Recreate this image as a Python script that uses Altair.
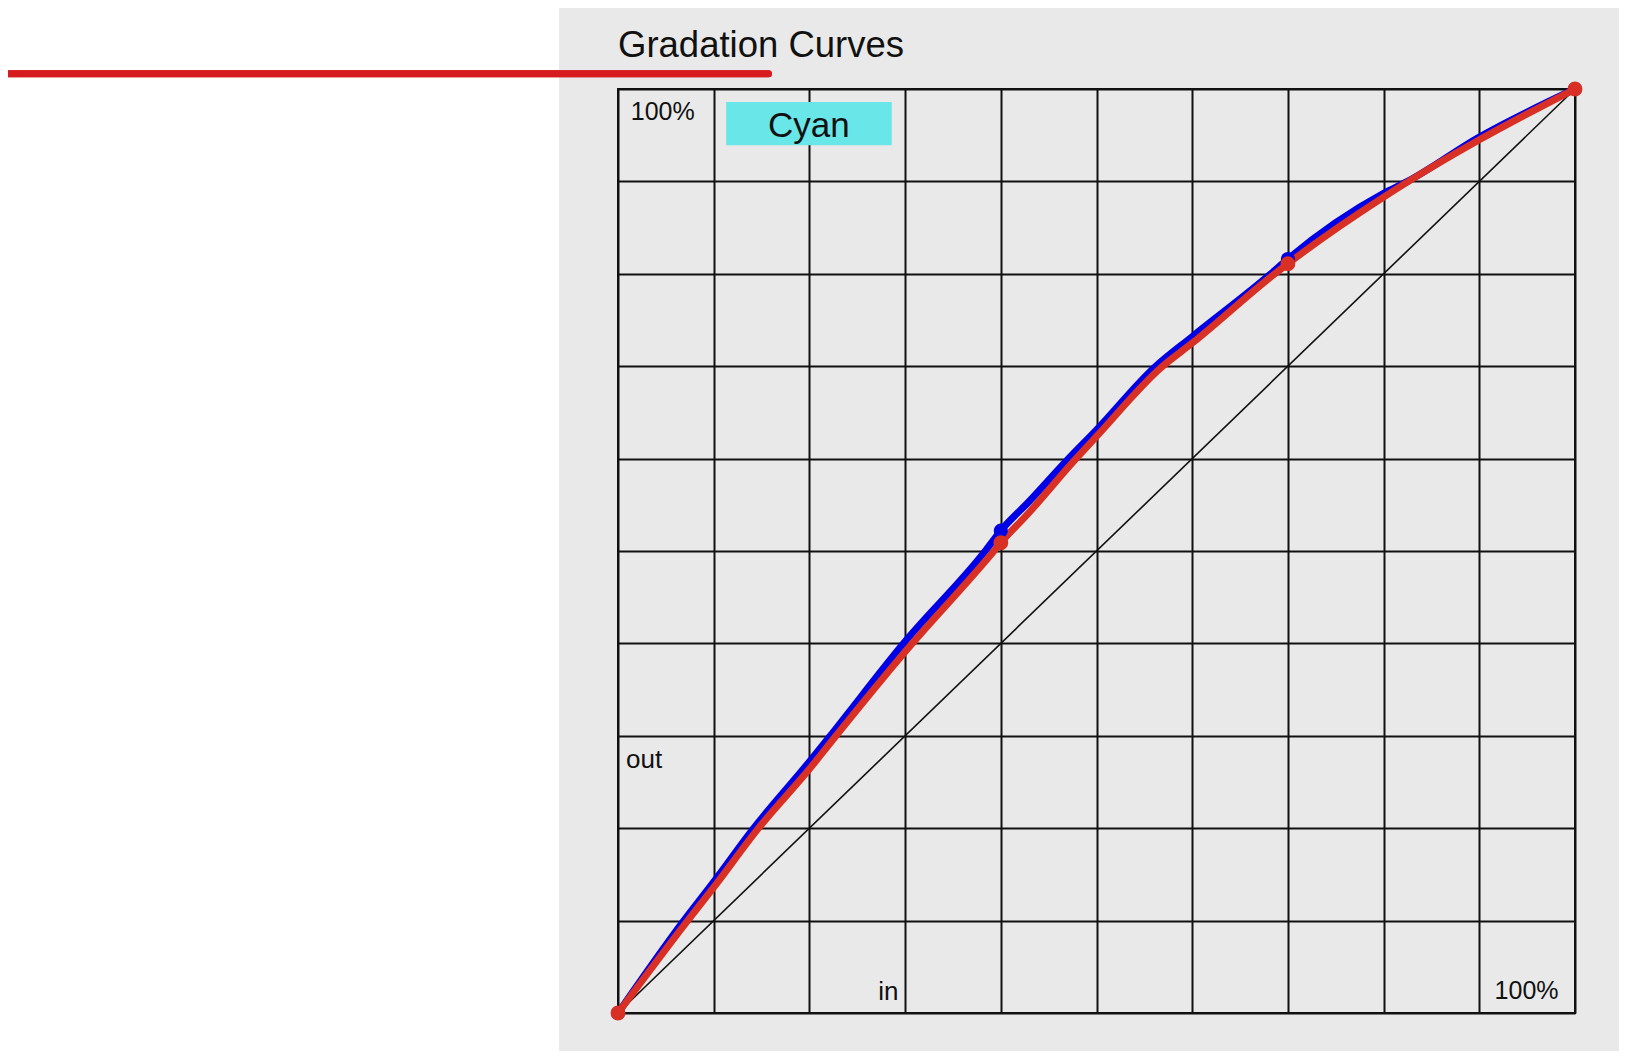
import altair as alt
import pandas as pd

# ---- data ----
in_blue = [0, 6.8, 10, 14.1, 20, 22.1, 30, 38.3, 40, 42.9, 46.9, 50, 56.1, 60, 68.1, 70, 80, 82.5, 90, 100]
out_blue = [0, 9.9, 14.2, 19.9, 27.2, 29.9, 40.2, 49.9, 52.2, 55.3, 59.8, 63.1, 69.9, 73.2, 79.9, 81.6, 88.7, 90.0, 94.8, 100]

in_red = [0, 7.2, 10, 14.6, 20, 22.7, 30, 39.2, 40, 42.9, 47.6, 50, 56.8, 60, 68.5, 70, 80, 82.6, 90, 100]
out_red = [0, 9.9, 13.6, 19.9, 26.4, 29.9, 39.1, 49.9, 50.9, 54.1, 59.7, 62.4, 69.9, 72.5, 79.9, 81.1, 88.3, 90.0, 94.5, 100]

ctrl_in = [0, 40, 70, 100]
ctrl_out_blue = [0, 52.2, 81.6, 100]
ctrl_out_red = [0, 50.9, 81.1, 100]

diag_in = [0, 100]
diag_out = [0, 100]

grid_ticks = [0, 10, 20, 30, 40, 50, 60, 70, 80, 90, 100]

title_text = ["Gradation Curves"]

label_text = ["100%", "100%"]
label_x = [1.33, 91.6]
label_y = [96.6, 1.48]

axis_name_text = ["out", "in"]
axis_name_x = [0.84, 27.2]
axis_name_y = [26.5, 1.46]

channel_name = ["Cyan"]
channel_box_x = [11.3]
channel_box_x2 = [28.6]
channel_box_y = [93.9]
channel_box_y2 = [98.6]
channel_text_x = [19.95]
channel_text_y = [94.8]

FONT = "Liberation Sans"

blue_df = pd.DataFrame({"in": in_blue, "out": out_blue})
red_df = pd.DataFrame({"in": in_red, "out": out_red})
cb_df = pd.DataFrame({"in": ctrl_in, "out": ctrl_out_blue})
cr_df = pd.DataFrame({"in": ctrl_in, "out": ctrl_out_red})
diag_df = pd.DataFrame({"in": diag_in, "out": diag_out})
lab_df = pd.DataFrame({"x": label_x, "y": label_y, "t": label_text})
name_df = pd.DataFrame({"x": axis_name_x, "y": axis_name_y, "t": axis_name_text})
box_df = pd.DataFrame({"x": channel_box_x, "x2": channel_box_x2, "y": channel_box_y, "y2": channel_box_y2})
ctext_df = pd.DataFrame({"x": channel_text_x, "y": channel_text_y, "t": channel_name})
title_df = pd.DataFrame({"t": title_text})

xs = alt.Scale(domain=[0, 100], nice=False, zero=False)
ys = alt.Scale(domain=[0, 100], nice=False, zero=False)
xaxis = alt.Axis(values=grid_ticks, grid=True, labels=False, ticks=False, domain=False, title=None)
yaxis = alt.Axis(values=grid_ticks, grid=True, labels=False, ticks=False, domain=False, title=None)

X = lambda f: alt.X(f, type="quantitative", scale=xs, axis=xaxis)
Y = lambda f: alt.Y(f, type="quantitative", scale=ys, axis=yaxis)

white = alt.Chart(diag_df).mark_rect(color="white").encode(
    x=alt.value(-640), x2=alt.value(-59), y=alt.value(-100), y2=alt.value(1000)
)
deco = alt.Chart(diag_df).mark_rule(color="#d61c1f", strokeWidth=7, strokeCap="round").encode(
    x=alt.value(-640), x2=alt.value(150.5), y=alt.value(-15.3)
)
title = alt.Chart(title_df).mark_text(
    font=FONT, fontSize=36.5, color="#111111", align="left", baseline="alphabetic"
).encode(x=alt.value(0), y=alt.value(-32), text="t")

diag = alt.Chart(diag_df).mark_line(color="#111111", strokeWidth=1.6).encode(
    x=X("in"), y=Y("out"), order="in:Q"
)
box = alt.Chart(box_df).mark_rect(color="#69e6e8").encode(
    x=X("x"), x2="x2", y=Y("y"), y2="y2"
)
ctext = alt.Chart(ctext_df).mark_text(
    font=FONT, fontSize=35, color="#111111", align="center", baseline="alphabetic"
).encode(x=X("x"), y=Y("y"), text="t")
labs = alt.Chart(lab_df).mark_text(
    font=FONT, fontSize=25, color="#111111", align="left", baseline="alphabetic"
).encode(x=X("x"), y=Y("y"), text="t")
names = alt.Chart(name_df).mark_text(
    font=FONT, fontSize=26, color="#111111", align="left", baseline="alphabetic"
).encode(x=X("x"), y=Y("y"), text="t")

blue_line = alt.Chart(blue_df).mark_line(
    color="#0000e6", strokeWidth=7, strokeJoin="round", strokeCap="round", interpolate="monotone"
).encode(x=X("in"), y=Y("out"), order="in:Q")
red_line = alt.Chart(red_df).mark_line(
    color="#d83024", strokeWidth=7, strokeJoin="round", strokeCap="round", interpolate="monotone"
).encode(x=X("in"), y=Y("out"), order="in:Q")
blue_pts = alt.Chart(cb_df).mark_circle(color="#0000e6", size=200, opacity=1).encode(
    x=X("in"), y=Y("out")
)
red_pts = alt.Chart(cr_df).mark_circle(color="#d83024", size=220, opacity=1).encode(
    x=X("in"), y=Y("out")
)

chart = alt.layer(
    white, deco, title, diag, box, ctext, labs, names, blue_line, red_line, blue_pts, red_pts
).properties(
    width=957,
    height=924,
    autosize=alt.AutoSizeParams(type="none"),
    padding={"left": 610, "top": 81, "right": 44, "bottom": 38},
).configure(
    background="#e9e9e9"
).configure_view(
    stroke="#111111", strokeWidth=2
).configure_axis(
    gridColor="#111111", gridWidth=2, gridOpacity=1
)

chart.save("out.html", embed_options={"renderer": "svg", "actions": False})
